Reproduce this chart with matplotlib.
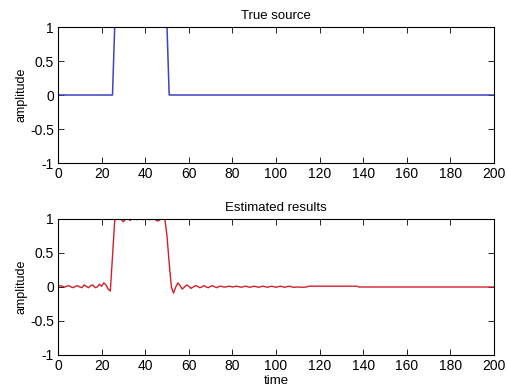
import matplotlib.pyplot as plt

plt.rcParams['font.family'] = ['Liberation Sans', 'DejaVu Sans']
plt.rcParams['axes.unicode_minus'] = False

# true source: rectangular pulse
src_t = [0, 25, 26, 50, 51, 200]
src_y = [0, 0, 1, 1, 0, 0]

# estimated result
est_t = list(range(0, 81)) + [82, 84, 86, 88, 90, 92, 94, 96, 98, 100, 102, 104, 106,
                             108, 110, 112, 114, 115, 137, 138, 200]
est_y = [0.01, 0.02, 0.01, 0.00, 0.01, 0.02, 0.00, -0.01, 0.01, 0.02,
         0.00, -0.01, 0.03, 0.01, -0.01, 0.02, 0.03, -0.01, 0.00, 0.04,
         0.01, 0.06, 0.03, -0.03, -0.06, 0.45, 0.98, 1.01, 1.02, 0.99,
         0.96, 1.00, 1.01, 0.98, 1.00, 1.01, 0.99, 1.00, 1.01, 0.99,
         1.00, 1.01, 0.99, 1.00, 1.02, 0.98, 0.97, 1.00, 1.02, 1.00,
         0.75, 0.35, 0.00, -0.09, 0.00, 0.06, 0.02, -0.03, 0.00, 0.03,
         0.01, -0.02, 0.00, 0.02, 0.01, -0.01, 0.00, 0.02, 0.00, -0.01,
         0.01, 0.02, 0.00, -0.01, 0.01, 0.01, 0.00, 0.00, 0.01, 0.01,
         0.00,
         0.012, -0.004, 0.012, -0.004, 0.012, -0.004, 0.012, -0.004, 0.012, -0.004,
         0.012, -0.004, 0.012, -0.004, 0.0, -0.004, 0.0, 0.012, 0.012, 0.0, 0.0]

xticks = list(range(0, 201, 20))
yticks = [-1, -0.5, 0, 0.5, 1]
yticklabels = ['-1', '-0.5', '0', '0.5', '1']

fig = plt.figure(figsize=(5.08, 3.9), dpi=100)
ax1 = fig.add_axes([58 / 508, 1 - 163 / 390, 436 / 508, 136 / 390])
ax2 = fig.add_axes([58 / 508, 1 - 355 / 390, 436 / 508, 136 / 390])

ax1.plot(src_t, src_y, color='#4040c0', lw=1.1)
ax2.plot(est_t, est_y, color='#d0202c', lw=1.0)

for ax, title in [(ax1, 'True source'), (ax2, 'Estimated results')]:
    ax.set_xlim(0, 200)
    ax.set_ylim(-1, 1)
    ax.set_xticks(xticks)
    ax.set_yticks(yticks)
    ax.set_yticklabels(yticklabels)
    ax.tick_params(direction='in', top=True, right=True, length=4, width=0.6,
                   labelsize=10, pad=3)
    for s in ax.spines.values():
        s.set_linewidth(0.8)
    ax.set_ylabel('amplitude', fontsize=9, labelpad=2)
    ax.set_title(title, fontsize=9.5, pad=6)

ax2.set_xlabel('time', fontsize=9.5, labelpad=1)

fig.savefig('out.png', dpi=100)
